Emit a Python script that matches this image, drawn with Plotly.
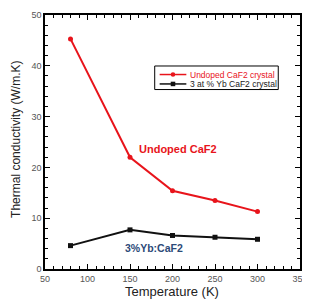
import plotly.graph_objects as go

temperature = [80, 150, 200, 250, 300]
undoped = [45.3, 22.0, 15.4, 13.5, 11.3]
yb_doped = [4.6, 7.7, 6.6, 6.25, 5.85]
legend_labels = ["Undoped CaF2 crystal", "3 at % Yb CaF2 crystal"]

RED = "#e8141b"
BLK = "#111111"

# figure is drawn inside the page's default 8px body margin
W, H = 302, 298
ML, MR, MT, MB = 37, 7, 2, 37
PW, PH = W - ML - MR, H - MT - MB


def px(X):
    return (X - 8 - ML) / PW


def py(Y):
    return 1 - (Y - 8 - MT) / PH


fig = go.Figure()
fig.add_trace(go.Scatter(x=temperature, y=undoped, mode="lines+markers",
                         name=legend_labels[0], showlegend=False, cliponaxis=False,
                         line=dict(color=RED, width=2),
                         marker=dict(color=RED, size=5, symbol="circle")))
fig.add_trace(go.Scatter(x=temperature, y=yb_doped, mode="lines+markers",
                         name=legend_labels[1], showlegend=False, cliponaxis=False,
                         line=dict(color=BLK, width=2),
                         marker=dict(color=BLK, size=5, symbol="square")))

tickfont = dict(size=9, color="#555", family="Liberation Sans")
axis_common = dict(showline=True, linecolor="black", linewidth=1.5, mirror="ticks",
                   ticks="inside", ticklen=5, tickcolor="black", showgrid=False,
                   zeroline=False, tickfont=tickfont, ticklabeloverflow="allow")
fig.update_xaxes(range=[50, 350], tick0=50, dtick=50,
                 minor=dict(ticks="inside", ticklen=3, dtick=10, tickcolor="black", showgrid=False),
                 **axis_common)
fig.update_yaxes(range=[0, 50], tick0=0, dtick=10,
                 minor=dict(ticks="inside", ticklen=3, dtick=2, tickcolor="black", showgrid=False),
                 **axis_common)

# axis titles
fig.add_annotation(xref="paper", yref="paper", x=px(173), y=py(292), text="Temperature (K)",
                   showarrow=False, xanchor="center", yanchor="middle",
                   font=dict(size=13, color="#222", family="Liberation Sans"))
fig.add_annotation(xref="paper", yref="paper", x=px(15), y=py(137), text="Thermal conductivity (W/m.K)",
                   showarrow=False, xanchor="center", yanchor="middle", textangle=-90,
                   font=dict(size=12, color="#222", family="Liberation Sans"))

# in-plot labels
fig.add_annotation(x=207, y=23.7, text="<b>Undoped CaF2</b>", showarrow=False,
                   font=dict(size=11, color=RED, family="Liberation Sans"))
fig.add_annotation(x=178, y=4.05, text="<b>3%Yb:CaF2</b>", showarrow=False,
                   font=dict(size=10.5, color="#2c4a78", family="Liberation Sans"))

# legend box
fig.add_shape(type="rect", xref="paper", yref="paper", x0=px(156), x1=px(281), y0=py(86), y1=py(62),
              line=dict(color="black", width=1), fillcolor="white", layer="above")
rows = [(70.7, RED, "circle", legend_labels[0], RED), (80.3, BLK, "square", legend_labels[1], "#222")]
for Y, col, sym, lab, tcol in rows:
    fig.add_shape(type="line", xref="paper", yref="paper", x0=px(161), x1=px(188), y0=py(Y), y1=py(Y),
                  line=dict(color=col, width=1.5), layer="above")
    r = 2.3
    if sym == "circle":
        fig.add_shape(type="circle", xref="paper", yref="paper", x0=px(174.5 - r), x1=px(174.5 + r),
                      y0=py(Y + r), y1=py(Y - r), line=dict(color=col, width=0), fillcolor=col, layer="above")
    else:
        fig.add_shape(type="rect", xref="paper", yref="paper", x0=px(174.5 - r), x1=px(174.5 + r),
                      y0=py(Y + r), y1=py(Y - r), line=dict(color=col, width=0), fillcolor=col, layer="above")
    fig.add_annotation(xref="paper", yref="paper", x=px(189.5), y=py(Y), text=lab, showarrow=False,
                       xanchor="left", yanchor="middle",
                       font=dict(size=8.5, color=tcol, family="Liberation Sans"))

fig.update_layout(
    width=W, height=H,
    margin=dict(l=ML, r=MR, t=MT, b=MB),
    paper_bgcolor="white", plot_bgcolor="white",
    showlegend=False,
)
fig.write_html("out.html")
